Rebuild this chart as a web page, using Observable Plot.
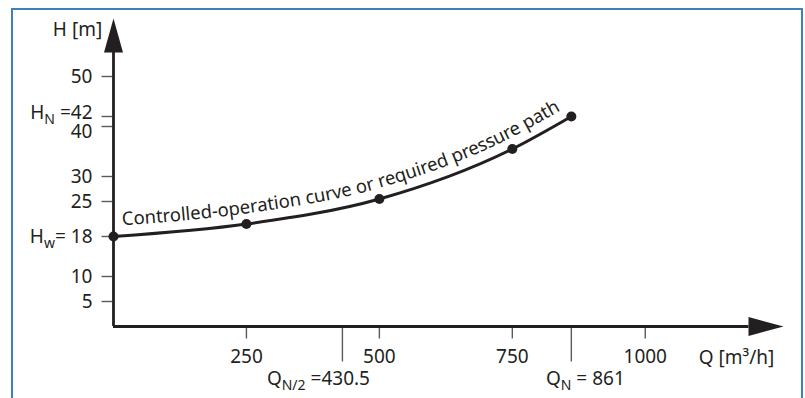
<!DOCTYPE html>
<html><head><meta charset="utf-8">
<script src="https://cdn.jsdelivr.net/npm/d3@7"></script>
<script src="https://cdn.jsdelivr.net/npm/@observablehq/plot@0.6"></script>
<style>
html,body{margin:0;padding:0;background:#fff;}
#wrap{position:relative;width:805px;height:398px;overflow:hidden;}
#wrap svg{position:absolute;left:0;top:0;}
#frame{position:absolute;left:11px;top:8px;width:792px;height:430px;border:2px solid #3a82bf;box-sizing:border-box;pointer-events:none;}
</style></head><body><div id="wrap"><div id="frame"></div></div>
<script>
// ---- data ----
const flow = [0, 250, 500, 750, 861];
const head = [18, 20.5, 25.5, 35.5, 42];
const yTicks = [5, 10, 18, 25, 30, 40, 42, 50];
const yTickLabels = ["5", "10", "H_{w}= 18", "25", "30", "40", "H_{N} =42", "50"];
const xTicks = [250, 500, 750, 1000];
const xTickLabels = ["250", "500", "750", "1000"];
const xMarks = [430.5, 861];
const xMarkLabels = ["Q_{N/2} =430.5", "Q_{N} = 861"];
const curveLabel = "Controlled-operation curve or required pressure path";
const xTitle = "Q [m³/h]";
const yTitle = "H [m]";
const xAxisEnd = 1260, yAxisEnd = 61.6;
const xArrowBase = 1195, yArrowBase = 55;

// ---- styles ----
const ink = "#231f20", tickInk = "#5a5a5a";
const font = "'Noto Sans', sans-serif";
const FS = 19;
const rows = flow.map((q, i) => ({q, h: head[i]}));
const yRows = yTicks.map((v, i) => ({v, label: yTickLabels[i]}));
const xRows = xTicks.map((v, i) => ({v, label: xTickLabels[i]}));
const mRows = xMarks.map((v, i) => ({v, label: xMarkLabels[i]}));

const arrowUp = {draw(c) { c.moveTo(0, 0); c.lineTo(9.5, 34); c.lineTo(-9.5, 34); c.closePath(); }};
const arrowRight = {draw(c) { c.moveTo(0, 0); c.lineTo(-35, 9.5); c.lineTo(-35, -9.5); c.closePath(); }};
const tickDown = (len) => ({draw(c) { c.moveTo(0, 1); c.lineTo(0, len); }});
const tickLeft = {draw(c) { c.moveTo(-12, 0); c.lineTo(-1, 0); }};

const chart = Plot.plot({
  width: 805, height: 398,
  marginLeft: 113, marginRight: 22, marginTop: 16, marginBottom: 72,
  x: {domain: [0, xAxisEnd], axis: null},
  y: {domain: [0, 62], axis: null},
  style: {fontFamily: font, fontSize: FS + "px", color: ink, background: "transparent", overflow: "visible"},
  marks: [
    // ticks
    Plot.dot(yRows, {x: () => 0, y: "v", r: 5, symbol: tickLeft, fill: "none", stroke: tickInk, strokeWidth: 1.4}),
    Plot.dot(xRows, {x: "v", y: () => 0, r: 5, symbol: tickDown(12), fill: "none", stroke: tickInk, strokeWidth: 1.4}),
    Plot.dot(mRows, {x: "v", y: () => 0, r: 5, symbol: tickDown(35), fill: "none", stroke: tickInk, strokeWidth: 1.4}),
    // axes
    Plot.ruleX([{x: 0}], {x: "x", y1: () => 0, y2: () => yArrowBase, stroke: ink, strokeWidth: 2.8}),
    Plot.ruleY([{y: 0}], {y: "y", x1: () => 0, x2: () => xArrowBase, stroke: ink, strokeWidth: 2.8}),
    Plot.dot([{x: 0, y: yAxisEnd}], {x: "x", y: "y", r: 5, symbol: arrowUp, fill: ink, stroke: "none"}),
    Plot.dot([{x: xAxisEnd, y: 0}], {x: "x", y: "y", r: 5, symbol: arrowRight, fill: ink, stroke: "none"}),
    // tick labels
    Plot.text(yRows, {filter: d => d.v !== 40 && d.v !== 42, x: () => 0, y: "v", text: "label", textAnchor: "end", dx: -21, fill: ink, fontSize: FS}),
    Plot.text(yRows, {filter: d => d.v === 42, x: () => 0, y: "v", text: "label", textAnchor: "end", dx: -21, dy: -4, fill: ink, fontSize: FS}),
    Plot.text(yRows, {filter: d => d.v === 40, x: () => 0, y: "v", text: "label", textAnchor: "end", dx: -21, dy: 5, fill: ink, fontSize: FS}),
    Plot.text(xRows, {x: "v", y: () => 0, text: "label", dy: 30, fill: ink, fontSize: FS}),
    Plot.text(mRows.slice(0, 1), {x: "v", y: () => 0, text: "label", dx: -24, dy: 52, fill: ink, fontSize: FS}),
    Plot.text(mRows.slice(1), {x: "v", y: () => 0, text: "label", dx: 14, dy: 52, fill: ink, fontSize: FS}),
    // titles
    Plot.text([yTitle], {x: () => 0, y: () => yAxisEnd, text: d => d, dx: -36, dy: 11, fill: ink, fontSize: FS}),
    Plot.text([xTitle], {x: () => xAxisEnd, y: () => 0, text: d => d, dx: -47, dy: 31, fill: ink, fontSize: FS}),
    // curve
    Plot.line(rows, {x: "q", y: "h", curve: "monotone-x", stroke: ink, strokeWidth: 3}),
    Plot.dot(rows, {x: "q", y: "h", r: 5, fill: ink, stroke: "none"})
  ]
});

const NS = "http://www.w3.org/2000/svg";
// subscripts
chart.querySelectorAll("text").forEach(t => {
  const s = t.textContent;
  if (!s.includes("_{")) return;
  t.textContent = "";
  const re = /_\{([^}]*)\}/g;
  let last = 0, m, shift = 0;
  const add = (str, sub) => {
    const ts = document.createElementNS(NS, "tspan");
    ts.textContent = str;
    if (sub) { ts.setAttribute("font-size", "14"); ts.setAttribute("dy", "5"); shift = 5; }
    else if (shift) { ts.setAttribute("dy", String(-shift)); shift = 0; }
    t.appendChild(ts);
  };
  while ((m = re.exec(s))) {
    if (m.index > last) add(s.slice(last, m.index), false);
    add(m[1], true);
    last = re.lastIndex;
  }
  if (last < s.length) add(s.slice(last), false);
});

// label along the curve
const linePath = chart.querySelector('g[aria-label="line"] path');
linePath.setAttribute("id", "ctrlCurve");
const txt = document.createElementNS(NS, "text");
txt.setAttribute("font-family", font);
txt.setAttribute("font-size", "18.5");
txt.setAttribute("fill", ink);
txt.setAttribute("stroke", "none");
txt.setAttribute("text-anchor", "start");
const tp = document.createElementNS(NS, "textPath");
tp.setAttribute("href", "#ctrlCurve");
tp.setAttribute("startOffset", "10");
const tsp = document.createElementNS(NS, "tspan");
tsp.setAttribute("dy", "-10");
tsp.textContent = curveLabel;
tp.appendChild(tsp);
txt.appendChild(tp);
chart.appendChild(txt);

document.getElementById("wrap").appendChild(chart);
</script>
</body></html>
